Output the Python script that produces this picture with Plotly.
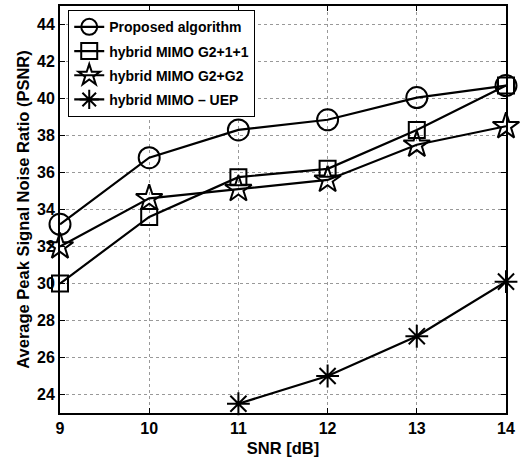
import plotly.graph_objects as go

snr = [9, 10, 11, 12, 13, 14]
proposed = [33.2, 36.8, 38.3, 38.85, 40.05, 40.7]
g2_1_1 = [30.0, 33.6, 35.75, 36.2, 38.3, 40.7]
g2_g2 = [32.0, 34.6, 35.1, 35.6, 37.5, 38.5]
snr_uep = [11, 12, 13, 14]
uep = [23.5, 25.0, 27.15, 30.1]

names = ["Proposed algorithm", "hybrid MIMO G2+1+1", "hybrid MIMO G2+G2", "hybrid MIMO \u2013 UEP"]

fig = go.Figure()
series = [
    (snr, proposed, "circle-open", 21),
    (snr, g2_1_1, "square-open", 16),
    (snr, g2_g2, "star-open", 20),
    (snr_uep, uep, "asterisk-open", 19),
]
for i, ((xs, ys, sym, sz), nm) in enumerate(zip(series, names)):
    fig.add_trace(go.Scatter(
        x=xs, y=ys, name=nm, mode="lines+markers", legendgroup=f"g{i}",
        line=dict(color="black", width=2.2),
        marker=dict(symbol=sym, size=sz, color="black", line=dict(color="black", width=2)),
        cliponaxis=False,
    ))

fam = "Liberation Sans, Arial, sans-serif"
tickfont = dict(family=fam, size=16, color="black", weight="bold")
titlefont = dict(family=fam, size=16.5, color="black", weight="bold")

fig.update_layout(
    width=520, height=459,
    margin=dict(l=60, r=13.5, t=6, b=46, autoexpand=False),
    plot_bgcolor="white", paper_bgcolor="white",
    font=tickfont,
    showlegend=True,
    legend=dict(
        x=0.018, y=0.99, xanchor="left", yanchor="top",
        bgcolor="white", bordercolor="black", borderwidth=1.2,
        font=dict(family=fam, size=14, color="black", weight="bold"),
        tracegroupgap=3, itemsizing="trace",
    ),
    xaxis=dict(
        range=[9, 14], dtick=1, tick0=9,
        showline=True, linecolor="black", linewidth=1.8, mirror="allticks",
        ticks="inside", ticklen=5, tickcolor="black",
        showgrid=True, gridcolor="#999999", griddash="dot", gridwidth=1,
        zeroline=False,
        title=dict(text="SNR [dB]", standoff=6, font=titlefont),
        tickfont=tickfont,
    ),
    yaxis=dict(
        range=[23, 45], dtick=2, tick0=0,
        showline=True, linecolor="black", linewidth=1.8, mirror="allticks",
        ticks="inside", ticklen=5, tickcolor="black",
        showgrid=True, gridcolor="#999999", griddash="dot", gridwidth=1,
        zeroline=False,
        title=dict(text="Average Peak Signal Noise Ratio (PSNR)", standoff=3, font=titlefont),
        tickfont=tickfont,
    ),
)

fig.write_html("out.html", config={"displayModeBar": False},
               post_script="document.body.style.margin='0';")
